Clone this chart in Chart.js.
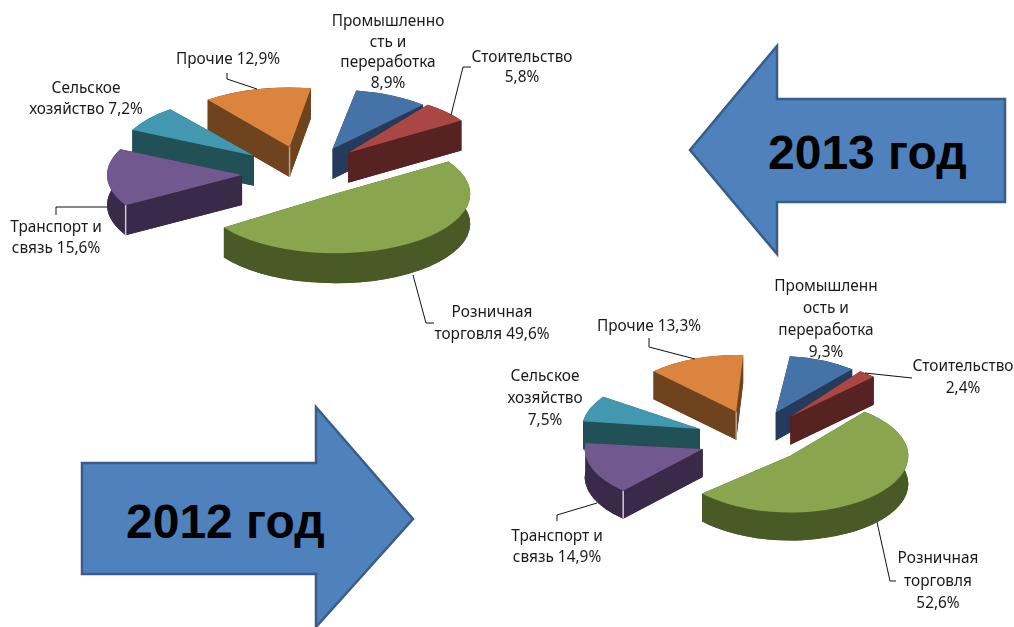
<!DOCTYPE html>
<html lang="ru">
<head>
<meta charset="utf-8">
<title>Структура 2012-2013</title>
<script src="https://cdn.jsdelivr.net/npm/chart.js@4"></script>
<style>
html,body{margin:0;padding:0;background:#fff;}
#page{position:relative;width:1014px;height:627px;overflow:hidden;}
#page canvas,#arrows{position:absolute;}
#arrows{left:0;top:0;}
#arrows polygon{fill:#4f81bd;stroke:#385d8a;stroke-width:2.5;}
#arrows text{font:bold 48px "Liberation Sans",Arial,sans-serif;fill:#000;}
</style>
</head>
<body>
<div id="page">
  <svg id="arrows" width="1014" height="627">
    <polygon points="690,150 777,46 777,99 1005,99 1005,202 777,202 777,254"/>
    <polygon points="82,463 316,463 316,407 413,519 316,627 316,574 82,574"/>
    <text x="768" y="169">2013 год</text>
    <text x="126" y="538">2012 год</text>
  </svg>
  <canvas id="pie2013" style="left:0;top:0"></canvas>
  <canvas id="pie2012" style="left:486px;top:253px"></canvas>
</div>
<script>
const categories = ["Розничная торговля","Транспорт и связь","Сельское хозяйство","Прочие","Промышленность и переработка","Стоительство"];
const values2013 = [49.6,15.6,7.2,12.9,8.9,5.8];
const values2012 = [52.6,14.9,7.5,13.3,9.3,2.4];

const topColors  = ["#89a54e","#71588f","#4198af","#db843d","#4572a7","#aa4643"];
const sideColors = ["#4a5a27","#3a2a4a","#215057","#6f431e","#243b5c","#562222"];

// text as wrapped in the picture, one array per slice
const labels2013 = [["Розничная","торговля 49,6%"],["Транспорт и","связь 15,6%"],["Сельское","хозяйство 7,2%"],["Прочие 12,9%"],["Промышленно","сть и","переработка","8,9%"],["Стоительство","5,8%"]];
const labels2012 = [["Розничная","торговля","52,6%"],["Транспорт и","связь 14,9%"],["Сельское","хозяйство","7,5%"],["Прочие 13,3%"],["Промышленн","ость и","переработка","9,3%"],["Стоительство","2,4%"]];

// label placement: page x centre, page y of first line, line height
const place2013 = [[492,313,22],[56,228,21],[86,89,21],[228,60,20],[388,22,20.5],[522,58,20]];
const place2012 = [[938,559,22.5],[557,537,21],[545,377,22],[649,327,20],[826,287,22],[963,367,22]];

// leader lines in page coordinates
const leaders2013 = [[[413,275],[426,323],[434,323]],[[107,207],[56,207],[56,215]],[],[[227,73],[227,79],[257,89]],[],[[471,67],[463,67],[451,115]]];
const leaders2012 = [[[877,522],[890,581],[896,581]],[[597,503],[557,515],[557,521]],[],[[649,338],[649,347],[695,359]],[],[[912,378],[865,373]]];

function pie3d(id, o){
  const el = document.getElementById(id);
  el.style.width = o.width+"px";
  el.style.height = o.height+"px";
  el.width = o.width;
  el.height = o.height;

  const plugin = {
    id:"pie3d",
    beforeDatasetDraw(chart,args){
      const ctx = chart.ctx, arcs = args.meta.data;
      const cx = arcs[0].x, cy = arcs[0].y;
      const mid = a => (a.startAngle+a.endAngle)/2;
      const order = arcs.map((a,i)=>i).sort((a,b)=>Math.sin(mid(arcs[a]))-Math.sin(mid(arcs[b])));

      order.forEach(i=>{
        const a = arcs[i], m = mid(a), off = o.explode[i], r = a.outerRadius;
        // flat pie plane at depth d, slice moved out from the centre
        const plane = d => {
          ctx.setTransform(1,0,0,1,0,0);
          ctx.translate(cx+o.nudge[i][0],cy+d+o.nudge[i][1]);
          ctx.scale(1,o.squash);
          ctx.translate(-cx,-cy);
          ctx.translate(Math.cos(m)*off,Math.sin(m)*off);
          ctx.translate(a.x,a.y);
          ctx.rotate(o.turn[i]*Math.PI/180);
          ctx.translate(-a.x,-a.y);
        };
        const sx = a.x+Math.cos(a.startAngle)*r, sy = a.y+Math.sin(a.startAngle)*r;
        const ex = a.x+Math.cos(a.endAngle)*r, ey = a.y+Math.sin(a.endAngle)*r;
        const dep = o.depth;
        ctx.save();
        ctx.fillStyle = sideColors[i];

        // bottom face
        plane(dep);
        ctx.beginPath();
        ctx.moveTo(a.x,a.y);
        ctx.arc(a.x,a.y,r,a.startAngle,a.endAngle);
        ctx.closePath();
        ctx.fill();
        // outer wall
        ctx.beginPath();
        plane(dep);
        ctx.arc(a.x,a.y,r,a.startAngle,a.endAngle);
        plane(0);
        ctx.arc(a.x,a.y,r,a.endAngle,a.startAngle,true);
        ctx.closePath();
        ctx.fill();
        // two cut faces
        [[sx,sy],[ex,ey]].forEach(p=>{
          ctx.beginPath();
          plane(0);
          ctx.moveTo(a.x,a.y);
          ctx.lineTo(p[0],p[1]);
          plane(dep);
          ctx.lineTo(p[0],p[1]);
          ctx.lineTo(a.x,a.y);
          ctx.closePath();
          ctx.fill();
        });

        // pale edge on the corners facing the viewer
        if(o.edges[i]){
          const p = o.edges[i]==="start" ? [sx,sy] : [a.x,a.y];
          ctx.strokeStyle = o.edges[i]==="start" ? "#cfc9d8" : "#bba588";
          ctx.lineWidth = 1.5;
          ctx.beginPath();
          plane(0);
          ctx.moveTo(p[0],p[1]);
          plane(dep);
          ctx.lineTo(p[0],p[1]);
          ctx.setTransform(1,0,0,1,0,0);
          ctx.stroke();
        }

        plane(0);
        a.draw(ctx);
        ctx.restore();
      });
      return false;
    },
    afterDraw(chart){
      const ctx = chart.ctx;
      ctx.save();
      ctx.translate(-o.left,-o.top);
      ctx.strokeStyle = "#111";
      ctx.lineWidth = 1;
      o.leaders.forEach(l=>{
        if(!l.length) return;
        ctx.beginPath();
        l.forEach((p,i)=> i ? ctx.lineTo(p[0],p[1]) : ctx.moveTo(p[0],p[1]));
        ctx.stroke();
      });
      ctx.fillStyle = "#1a1a1a";
      ctx.font = "15.4px 'Noto Sans'";
      ctx.textAlign = "center";
      ctx.textBaseline = "middle";
      o.labels.forEach((lines,i)=>{
        const p = o.place[i];
        lines.forEach((t,j)=> ctx.fillText(t,p[0],p[1]+j*p[2]));
      });
      ctx.restore();
    }
  };

  return new Chart(el,{
    type:"pie",
    data:{
      labels:categories,
      datasets:[{
        data:o.values,
        backgroundColor:topColors,
        borderWidth:0,
        radius:o.radius
      }]
    },
    options:{
      responsive:false,
      animation:false,
      rotation:o.rotation,
      layout:{padding:0},
      plugins:{legend:{display:false},tooltip:{enabled:false}}
    },
    plugins:[plugin]
  });
}

pie3d("pie2013",{
  left:0,top:0,width:600,height:344,
  values:values2013,labels:labels2013,place:place2013,leaders:leaders2013,
  radius:135,squash:.44,depth:30,rotation:61,
  explode:[65,58,59,59,65,65],
  turn:[-4,0,0,1,2,-4],
  nudge:[[3,-3],[0,2],[0,0],[5,0],[6,3],[-2,-1]],
  edges:[null,"start",null,"apex",null,null]
});

pie3d("pie2012",{
  left:486,top:253,width:528,height:374,
  values:values2012,labels:labels2012,place:place2012,leaders:leaders2012,
  radius:118,squash:.48,depth:28,rotation:44,
  explode:[55,48,57,50,65,60],
  turn:[-5,-11,-9,1.5,5,1],
  nudge:[[4,-4],[0,5],[-1,3],[5,-6],[5,2],[2,-1]],
  edges:[null,"start",null,"apex",null,null]
});
</script>
</body>
</html>
